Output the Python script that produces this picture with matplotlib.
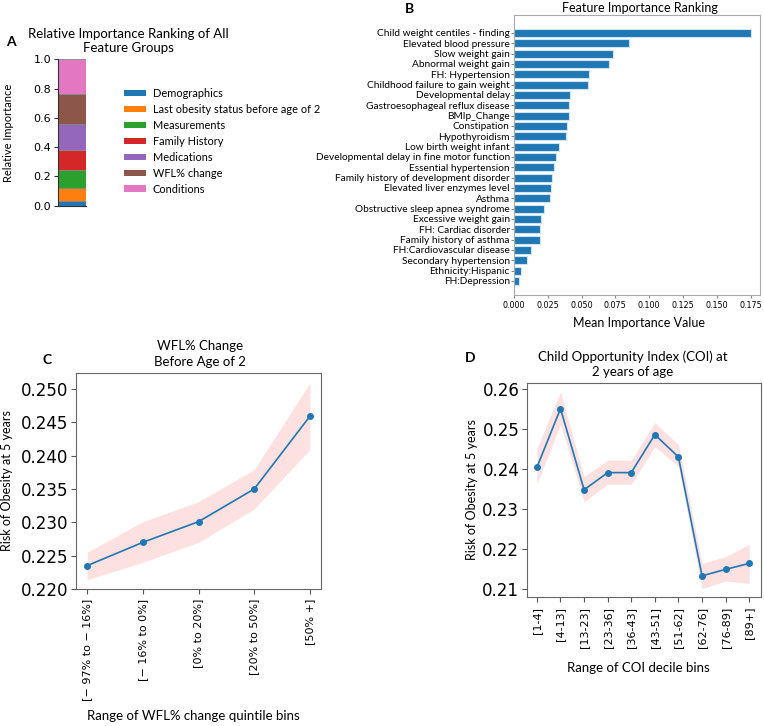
import numpy as np
import matplotlib
matplotlib.use("Agg")
import matplotlib.pyplot as plt
from matplotlib.patches import Patch

W, H = 764, 726
TXT = ["Lato", "DejaVu Sans"]
NUM = ["DejaVu Sans"]
BLUE = "#1f77b4"
BAND = "#fde0e0"

# -- Panel A: stacked relative importance ----------------------
groups = ["Demographics", "Last obesity status before age of 2", "Measurements",
          "Family History", "Medications", "WFL% change", "Conditions"]
group_share = [0.032, 0.086, 0.126, 0.136, 0.180, 0.203, 0.237]
group_colors = ["#1f77b4", "#ff7f0e", "#2ca02c", "#d62728",
                "#9467bd", "#8c564b", "#e377c2"]

# -- Panel B: feature importance --------------------------------
features = ["Child weight centiles - finding", "Elevated blood pressure",
            "Slow weight gain", "Abnormal weight gain", "FH: Hypertension",
            "Childhood failure to gain weight", "Developmental delay",
            "Gastroesophageal reflux disease", "BMIp_Change", "Constipation",
            "Hypothyroidism", "Low birth weight infant",
            "Developmental delay in fine motor function", "Essential hypertension",
            "Family history of development disorder", "Elevated liver enzymes level",
            "Asthma", "Obstructive sleep apnea syndrome", "Excessive weight gain",
            "FH: Cardiac disorder", "Family history of asthma",
            "FH:Cardiovascular disease", "Secondary hypertension",
            "Ethnicity:Hispanic", "FH:Depression"]
importance = [0.1757, 0.0850, 0.0729, 0.0704, 0.0554, 0.0551, 0.0415, 0.0408,
              0.0408, 0.0390, 0.0383, 0.0334, 0.0311, 0.0294, 0.0279, 0.0274,
              0.0264, 0.0225, 0.0200, 0.0195, 0.0193, 0.0129, 0.0094, 0.0052,
              0.0040]

# -- Panel C: WFL% change bins ----------------------------------
wfl_bins = ["[\u2212 97% to \u2212 16%]", "[\u2212 16% to 0%]", "[0% to 20%]",
            "[20% to 50%]", "[50% +]"]
wfl_risk = [0.2235, 0.2270, 0.2301, 0.2350, 0.2459]
wfl_upper = [0.2255, 0.2301, 0.2331, 0.2379, 0.2509]
wfl_lower = [0.2214, 0.2240, 0.2270, 0.2320, 0.2409]

# -- Panel D: COI bins -------------------------------------------
coi_bins = ["[1-4]", "[4-13]", "[13-23]", "[23-36]", "[36-43]", "[43-51]",
            "[51-62]", "[62-76]", "[76-89]", "[89+]"]
coi_risk = [0.2405, 0.2552, 0.2349, 0.2392, 0.2392, 0.2487, 0.2431,
            0.2134, 0.2150, 0.2165]
coi_upper = [0.2452, 0.2594, 0.2382, 0.2423, 0.2423, 0.2517, 0.2462,
             0.2165, 0.2182, 0.2213]
coi_lower = [0.2363, 0.2513, 0.2319, 0.2363, 0.2363, 0.2457, 0.2407,
             0.2102, 0.2121, 0.2115]


def px_axes(fig, left, top, right, bottom):
    return fig.add_axes([left / W, 1 - bottom / H, (right - left) / W, (bottom - top) / H])


def ftext(fig, x, y, s, **kw):
    fig.text(x / W, 1 - y / H, s, **kw)


fig = plt.figure(figsize=(W / 100, H / 100), dpi=100)

# ---------------- A ----------------
axA = px_axes(fig, 58.3, 59.3, 85.7, 205.7)
bottom = 0.0
for name, val, col in zip(groups, group_share, group_colors):
    axA.bar(0, val, bottom=bottom, width=1.0, color=col, edgecolor="#888888",
            linewidth=0.6, label=name)
    bottom += val
axA.set_xlim(-0.5, 0.5)
axA.set_ylim(0, 1.0)
axA.set_xticks([])
axA.set_yticks([0, 0.2, 0.4, 0.6, 0.8, 1.0])
axA.tick_params(axis="y", labelsize=8, length=3, color="#333333", pad=2)
for lb in axA.get_yticklabels():
    lb.set_family(NUM)
for s in ["top", "right"]:
    axA.spines[s].set_visible(False)
axA.spines["left"].set_color("#333333")
axA.spines["bottom"].set_color("#333333")
axA.set_ylabel("Relative Importance", fontsize=8, family=TXT)
axA.yaxis.set_label_coords((14 - 58.3) / 27.4, 0.5)
handles = [Patch(facecolor=c, edgecolor="none") for c in group_colors]
fig.legend(handles, groups, loc="upper left", bbox_to_anchor=(124 / W, 1 - 88 / H),
           frameon=False, borderpad=0, borderaxespad=0, labelspacing=0.45,
           handlelength=2.0, handleheight=0.55, handletextpad=0.6,
           prop={"family": TXT, "size": 7.9})
ftext(fig, 128, 41, "Relative Importance Ranking of All\nFeature Groups",
      ha="center", va="center", fontsize=9.5, family=TXT, linespacing=1.25)
ftext(fig, 6, 42, "A", ha="left", va="center", fontsize=10, fontweight="bold", family=TXT)

# ---------------- B ----------------
axB = px_axes(fig, 514, 15, 760, 295)
ypos = np.arange(len(features))[::-1]
axB.barh(ypos, importance, height=0.78, color=BLUE, edgecolor="#cfe3f3", linewidth=0.8)
axB.set_ylim(-1.36, len(features) - 1 + 1.74)
axB.set_xlim(0, 0.182)
axB.set_yticks(ypos)
axB.set_yticklabels(features, fontsize=7.3, family=TXT)
axB.set_xticks([0, 0.025, 0.05, 0.075, 0.1, 0.125, 0.15, 0.175])
axB.set_xticklabels(["0.000", "0.025", "0.050", "0.075", "0.100", "0.125", "0.150", "0.175"],
                    fontsize=5.8, family=NUM)
axB.tick_params(axis="y", length=2, pad=1, color="#888888")
axB.tick_params(axis="x", length=2, pad=2, color="#888888")
for s in axB.spines.values():
    s.set_color("#aaaaaa")
axB.set_xlabel("Mean Importance Value", fontsize=9, family=TXT)
axB.xaxis.set_label_coords(0.51, -(317 - 295) / 280)
ftext(fig, 640, 8, "Feature Importance Ranking", ha="center", va="center",
      fontsize=9, family=TXT)
ftext(fig, 410, 9, "B", ha="center", va="center", fontsize=10, fontweight="bold", family=TXT)


def risk_panel(ax, labels, risk, lo, hi):
    x = np.arange(len(labels))
    ax.fill_between(x, lo, hi, color=BAND, linewidth=0)
    ax.plot(x, risk, color=BLUE, linewidth=1.2, marker="o", markersize=4)
    ax.set_xticks(x)
    ax.set_xticklabels(labels, rotation=90, fontsize=8, family=NUM)
    ax.tick_params(axis="both", length=3.5, color="#555555")
    ax.tick_params(axis="y", labelsize=12, pad=2)
    for lb in ax.get_yticklabels():
        lb.set_family(NUM)
    for s in ax.spines.values():
        s.set_color("#666666")
    ax.set_ylabel("Risk of Obesity at 5 years", fontsize=9, family=TXT)


# ---------------- C ----------------
axC = px_axes(fig, 76, 373, 321, 589)
risk_panel(axC, wfl_bins, wfl_risk, wfl_lower, wfl_upper)
axC.set_xlim(-0.2, 4.2)
axC.set_ylim(0.220, 0.2524)
axC.set_yticks(np.arange(0.220, 0.2501, 0.005))
axC.set_yticklabels(["0.220", "0.225", "0.230", "0.235", "0.240", "0.245", "0.250"], family=NUM)
axC.yaxis.set_label_coords((13 - 76) / 245, 0.5)
axC.set_xlabel("Range of WFL% change quintile bins", fontsize=9.5, family=TXT)
axC.xaxis.set_label_coords(0.478, -(710 - 589) / 216)
ftext(fig, 200, 354, "WFL% Change\nBefore Age of 2", ha="center", va="center",
      fontsize=9.5, family=TXT, linespacing=1.35)
ftext(fig, 47, 360, "C", ha="center", va="center", fontsize=10, fontweight="bold", family=TXT)

# ---------------- D ----------------
axD = px_axes(fig, 527, 383, 761, 597)
risk_panel(axD, coi_bins, coi_risk, coi_lower, coi_upper)
axD.set_xlim(-0.42, 9.5)
axD.set_ylim(0.2081, 0.2616)
axD.set_yticks([0.21, 0.22, 0.23, 0.24, 0.25, 0.26])
axD.set_yticklabels(["0.21", "0.22", "0.23", "0.24", "0.25", "0.26"], family=NUM)
axD.yaxis.set_label_coords((478 - 527) / 234, 0.5)
axD.set_xlabel("Range of COI decile bins", fontsize=9.5, family=TXT)
axD.xaxis.set_label_coords(0.474, -(662 - 597) / 214)
ftext(fig, 633, 364, "Child Opportunity Index (COI) at\n2 years of age", ha="center",
      va="center", fontsize=9.5, family=TXT, linespacing=1.3)
ftext(fig, 470, 358, "D", ha="center", va="center", fontsize=10, fontweight="bold", family=TXT)

fig.savefig("out.png", dpi=100)
